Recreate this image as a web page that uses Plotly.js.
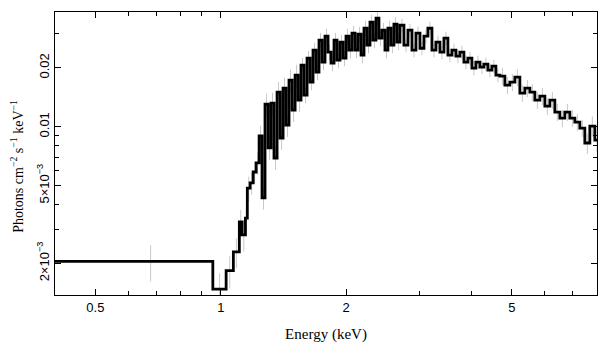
<!DOCTYPE html>
<html>
<head>
<meta charset="utf-8">
<script src="https://cdn.plot.ly/plotly-3.0.1.min.js"></script>
<style>html,body{margin:0;padding:0;background:#fff;}#chart{width:609px;height:357px;}</style>
</head>
<body>
<div id="chart"></div>
<script>
// Bin edges in keV (n+1 values)
const binEdges = [0.4, 0.957, 1.030, 1.072, 1.108, 1.125, 1.146, 1.158,
  1.176, 1.196, 1.216, 1.236, 1.256, 1.277, 1.299, 1.320, 1.342, 1.365, 1.388, 1.411, 1.434, 1.458, 1.483, 1.508, 1.533,
  1.558, 1.584, 1.611, 1.638, 1.665, 1.693, 1.721, 1.750, 1.779, 1.809, 1.839, 1.870, 1.901, 1.933, 1.965, 1.998, 2.031,
  2.065, 2.100, 2.135, 2.171, 2.207, 2.244, 2.281, 2.319, 2.358, 2.397, 2.437, 2.478, 2.519, 2.561, 2.604, 2.648, 2.692,
  2.752, 2.814, 2.877, 2.941, 3.007, 3.074, 3.142, 3.213, 3.284, 3.358, 3.433, 3.509, 3.588, 3.668, 3.750, 3.834, 3.919,
  4.007, 4.096, 4.188, 4.281, 4.377, 4.475, 4.575, 4.677,
  4.808, 4.942, 5.081, 5.223, 5.369, 5.520, 5.674, 5.833, 5.997, 6.165, 6.337, 6.515, 6.697, 6.885, 7.078, 7.276, 7.479,
  7.689, 7.904, 8.1];

// Flux per bin (photons cm^-2 s^-1 keV^-1)
const flux = [0.00205, 0.00148, 0.00184, 0.00229, 0.00326, 0.00280, 0.00341, 0.00486,
  0.00516, 0.00587, 0.00653, 0.00897, 0.00433, 0.01306, 0.00779, 0.01321, 0.00692, 0.01503, 0.00876, 0.01576, 0.01020,
  0.01731, 0.01217, 0.01835, 0.01368,
  0.02064, 0.01451, 0.02241, 0.01691, 0.02462, 0.01901, 0.02769, 0.02139, 0.02903, 0.02405, 0.02113, 0.02769, 0.02189,
  0.02705, 0.02241, 0.02903, 0.02462, 0.03007, 0.02462, 0.02972, 0.02322, 0.03188, 0.02611, 0.03421, 0.02769, 0.03586,
  0.02835, 0.03115, 0.02462, 0.03188, 0.02611, 0.03342, 0.02705,
  0.03303, 0.02611, 0.03115, 0.02462, 0.03007, 0.02520, 0.02903, 0.03188, 0.02462, 0.02705, 0.02405, 0.02835, 0.02322,
  0.02462, 0.02295, 0.02405, 0.02139, 0.02241, 0.01993, 0.02139, 0.02017, 0.02089, 0.01947, 0.02040, 0.01835,
  0.01814, 0.01632, 0.01691, 0.01793, 0.01486, 0.01576, 0.01503, 0.01368, 0.01434, 0.01275, 0.01368, 0.01189, 0.01108,
  0.01189, 0.01108, 0.01057, 0.00985, 0.00826, 0.01008, 0.00855];

// 1-sigma errors per bin
const fluxErr = [0.00043, 0.00030, 0.00035, 0.00040, 0.00050, 0.00050, 0.00060, 0.00070,
  0.00067, 0.00076, 0.00085, 0.00117, 0.00056, 0.00170, 0.00101, 0.00172, 0.00090, 0.00195, 0.00114, 0.00205, 0.00133,
  0.00225, 0.00158, 0.00239, 0.00178,
  0.00186, 0.00131, 0.00202, 0.00152, 0.00222, 0.00171, 0.00249, 0.00193, 0.00261, 0.00216, 0.00190, 0.00249, 0.00197,
  0.00243, 0.00202, 0.00261, 0.00222, 0.00271, 0.00222, 0.00267, 0.00209, 0.00287, 0.00235, 0.00308, 0.00249, 0.00323,
  0.00255, 0.00280, 0.00222, 0.00287, 0.00235, 0.00301, 0.00243,
  0.00264, 0.00209, 0.00249, 0.00197, 0.00241, 0.00202, 0.00232, 0.00255, 0.00197, 0.00216, 0.00192, 0.00227, 0.00186,
  0.00197, 0.00184, 0.00192, 0.00171, 0.00179, 0.00159, 0.00171, 0.00161, 0.00167, 0.00156, 0.00163, 0.00147,
  0.00181, 0.00163, 0.00169, 0.00179, 0.00149, 0.00158, 0.00150, 0.00137, 0.00143, 0.00128, 0.00137, 0.00119, 0.00111,
  0.00119, 0.00111, 0.00106, 0.00099, 0.00099, 0.00121, 0.00111];

const xTickVals = [0.5, 1, 2, 5];
const xTickText = ['0.5', '1', '2', '5'];
const xMinorVals = [0.4, 0.6, 0.7, 0.8, 0.9, 3, 4, 6, 7, 8];
const yTickVals = [0.002, 0.005, 0.01, 0.02];
const yTickText = ['2×10<sup>−3</sup>', '5×10<sup>−3</sup>', '0.01', '0.02'];
const yMinorVals = [0.003, 0.004, 0.006, 0.007, 0.008, 0.009, 0.03];

const stepX = binEdges.slice();
const stepY = flux.concat([flux[flux.length - 1]]);
const centers = flux.map((_, i) => (binEdges[i] + binEdges[i + 1]) / 2);

const traces = [
  {
    x: centers, y: flux, type: 'scatter', mode: 'markers',
    marker: {size: 1, color: 'rgba(0,0,0,0)'},
    error_y: {type: 'data', array: fluxErr, visible: true, color: '#c8c8c8', thickness: 1, width: 0},
    hoverinfo: 'skip', showlegend: false
  },
  {
    x: stepX, y: stepY, type: 'scatter', mode: 'lines',
    line: {shape: 'hv', color: '#000', width: 2.8},
    showlegend: false
  }
];

const axisCommon = {
  showline: true, linecolor: '#000', linewidth: 1.3, mirror: 'allticks',
  ticks: 'inside', ticklen: 6, tickwidth: 1, tickcolor: '#000',
  showgrid: false, zeroline: false,
  tickfont: {family: 'Liberation Sans, Arial, sans-serif', size: 13, color: '#000'}
};

const serif = 'Liberation Serif, Times New Roman, serif';

const layout = {
  width: 609, height: 357,
  margin: {l: 55, r: 12, t: 12, b: 62},
  paper_bgcolor: '#fff', plot_bgcolor: '#fff',
  xaxis: Object.assign({}, axisCommon, {
    type: 'log', range: [Math.log10(0.4), Math.log10(8)],
    tickmode: 'array', tickvals: xTickVals, ticktext: xTickText,
    minor: {tickmode: 'array', tickvals: xMinorVals, ticks: 'inside', ticklen: 4, tickcolor: '#000', showgrid: false},
    title: {text: 'Energy (keV)', font: {family: serif, size: 15, color: '#000'}, standoff: 14}
  }),
  yaxis: Object.assign({}, axisCommon, {
    type: 'log', range: [Math.log10(0.00138), Math.log10(0.0386)],
    tickmode: 'array', tickvals: yTickVals, ticktext: yTickText, tickangle: -90,
    minor: {tickmode: 'array', tickvals: yMinorVals, ticks: 'inside', ticklen: 4, tickcolor: '#000', showgrid: false}
  }),
  annotations: [{
    text: 'Photons cm<sup>−2</sup> s<sup>−1</sup> keV<sup>−1</sup>',
    xref: 'paper', yref: 'paper', x: -0.069, y: 0.455,
    xanchor: 'center', yanchor: 'middle', textangle: -90, showarrow: false,
    font: {family: serif, size: 14, color: '#000'}
  }]
};

Plotly.newPlot('chart', traces, layout, {staticPlot: true, displayModeBar: false});
</script>
</body>
</html>
